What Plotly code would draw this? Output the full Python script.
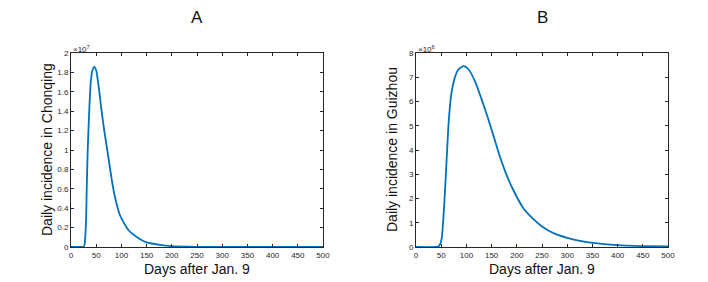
import plotly.graph_objects as go

# Panel A: Chongqing daily incidence (units of 1e7)
days_a = [0, 20, 25, 27, 28, 30, 31, 33, 36, 39, 42, 46, 50, 55, 60, 66, 74, 81, 87, 97,
          114, 134, 150, 180, 200, 250, 300, 400, 500]
vals_a = [0, 0, 0.001, 0.03, 0.08, 0.3, 0.55, 0.97, 1.38, 1.69, 1.81, 1.856, 1.82, 1.65, 1.43,
          1.2, 0.93, 0.69, 0.52, 0.33, 0.175, 0.09, 0.048, 0.02, 0.008, 0.001, 0, 0, 0]

# Panel B: Guizhou daily incidence (units of 1e6)
days_b = [0, 40, 44, 48, 51, 55, 59, 62, 65, 70, 77, 84, 94, 104, 117, 130, 143, 155, 167,
          180, 193, 213, 233, 250, 275, 300, 325, 350, 400, 450, 500]
vals_b = [0, 0, 0.02, 0.12, 0.35, 1.4, 2.9, 4.1, 5.2, 6.3, 6.98, 7.32, 7.46, 7.33, 6.84, 6.1,
          5.3, 4.5, 3.7, 2.95, 2.35, 1.6, 1.15, 0.85, 0.55, 0.38, 0.25, 0.17, 0.08, 0.04, 0.02]

x_ticks = [0, 50, 100, 150, 200, 250, 300, 350, 400, 450, 500]
y_ticks_a = [0, 0.2, 0.4, 0.6, 0.8, 1, 1.2, 1.4, 1.6, 1.8, 2]
y_ticks_b = [0, 1, 2, 3, 4, 5, 6, 7, 8]

titles = ["A", "B"]
x_label = "Days after Jan. 9"
y_labels = ["Daily incidence in Chonqing", "Daily incidence in Guizhou"]
exponents = ["7", "6"]

W, H = 708, 282
FONT = "Liberation Sans, Arial, sans-serif"
LINE = "#0072BD"
AX = "#262626"

def px_x(p):
    return p / W

def px_y(p):
    return (H - p) / H

fig = go.Figure()
fig.add_trace(go.Scatter(x=days_a, y=vals_a, mode="lines", xaxis="x", yaxis="y",
                         line=dict(color=LINE, width=1.8, shape="spline", smoothing=0.6),
                         showlegend=False, hoverinfo="skip"))
fig.add_trace(go.Scatter(x=days_b, y=vals_b, mode="lines", xaxis="x2", yaxis="y2",
                         line=dict(color=LINE, width=1.8, shape="spline", smoothing=0.6),
                         showlegend=False, hoverinfo="skip"))

ax_common = dict(showline=True, mirror="ticks", linecolor=AX, linewidth=1,
                 ticks="inside", ticklen=3, tickcolor=AX, tickwidth=1,
                 showgrid=False, zeroline=False, automargin=False,
                 tickfont=dict(family=FONT, size=8, color=AX))

left_a, right_a = 71, 323
left_b, right_b = 416, 668
top, bottom = 53, 247

fig.update_layout(
    width=W, height=H, autosize=False,
    margin=dict(l=0, r=0, t=0, b=0, pad=0),
    paper_bgcolor="white", plot_bgcolor="white",
    xaxis=dict(domain=[px_x(left_a), px_x(right_a)], range=[0, 500], tickvals=x_ticks,
               anchor="y", **ax_common),
    yaxis=dict(domain=[px_y(bottom), px_y(top)], range=[0, 2], tickvals=y_ticks_a,
               anchor="x", **ax_common),
    xaxis2=dict(domain=[px_x(left_b), px_x(right_b)], range=[0, 500], tickvals=x_ticks,
                anchor="y2", **ax_common),
    yaxis2=dict(domain=[px_y(bottom), px_y(top)], range=[0, 8], tickvals=y_ticks_b,
                anchor="x2", **ax_common),
)

anns = []
for i, (l, r) in enumerate([(left_a, right_a), (left_b, right_b)]):
    cx = (l + r) / 2
    anns.append(dict(text=titles[i], x=px_x(cx), y=px_y(17), xref="paper", yref="paper",
                     xanchor="center", yanchor="middle",
                     showarrow=False, font=dict(family=FONT, size=17, color="#111")))
    anns.append(dict(text=x_label, x=px_x(cx), y=px_y(269), xref="paper", yref="paper",
                     xanchor="center", yanchor="middle",
                     showarrow=False, font=dict(family=FONT, size=14, color="#111")))
    anns.append(dict(text=y_labels[i], x=px_x(l - 24), y=px_y((top + bottom) / 2),
                     xref="paper", yref="paper", textangle=-90, showarrow=False,
                     xanchor="center", yanchor="middle",
                     font=dict(family=FONT, size=14, color="#111")))
    anns.append(dict(text="×10<sup>" + exponents[i] + "</sup>", x=px_x(l), y=px_y(49),
                     xref="paper", yref="paper", xanchor="left", yanchor="middle",
                     showarrow=False, font=dict(family=FONT, size=8, color=AX)))
fig.update_layout(annotations=anns)

fig.write_html("out.html", config={"displayModeBar": False, "staticPlot": True},
               post_script="document.body.style.margin='0px';document.body.style.padding='0px';")
